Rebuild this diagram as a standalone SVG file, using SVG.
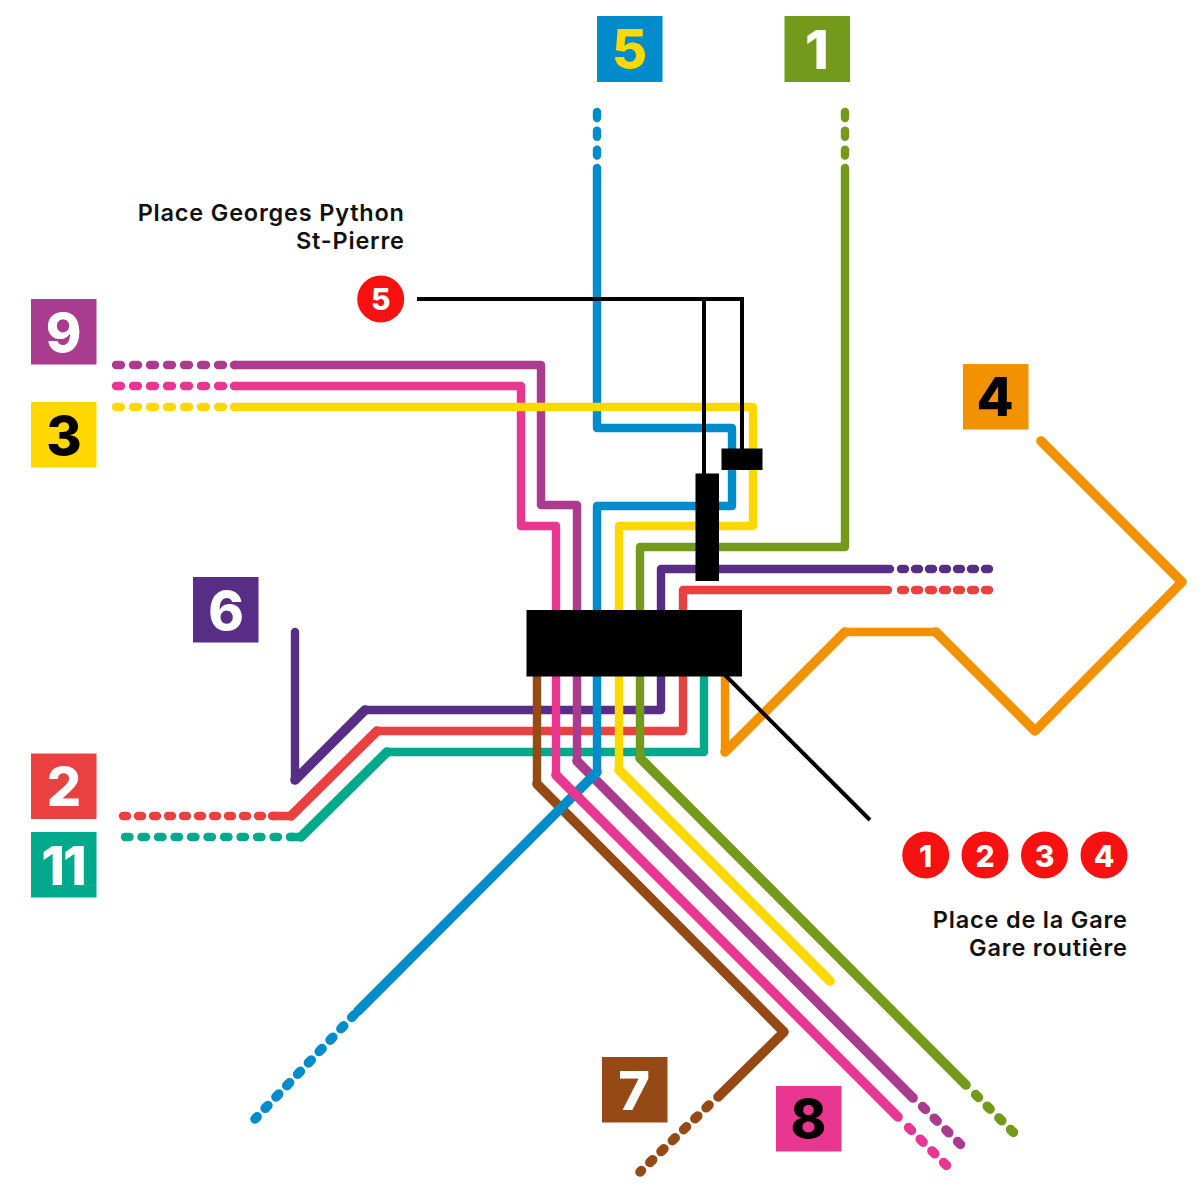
<svg xmlns="http://www.w3.org/2000/svg" width="1200" height="1197" viewBox="0 0 1200 1197">
<style>
.l{fill:none;stroke-width:8.4;stroke-linejoin:round;stroke-linecap:round}
.l .d,.l.d{stroke-width:9.6}
.b{fill:none;stroke:#000;stroke-width:4;stroke-linecap:butt}
.h{fill:#000}
.num{font-family:Inter,"Liberation Sans",sans-serif;font-weight:800;font-size:54px;text-anchor:middle}
.cn{font-family:Inter,"Liberation Sans",sans-serif;font-weight:800;font-size:30px;text-anchor:middle;fill:#fff}
.c{fill:#F91010}
.lab{font-family:Inter,"Liberation Sans",sans-serif;font-weight:600;font-size:23.5px;letter-spacing:.8px;text-anchor:end;fill:#111}
.blue{stroke:#008BCB}.green{stroke:#739A1A}.mag{stroke:#A93C8F}.pink{stroke:#E93690}.yel{stroke:#FFD800}.pur{stroke:#582D86}.red{stroke:#EA403F}.teal{stroke:#00A98B}.brown{stroke:#954A15}.or{stroke:#F39200}
</style>
<g id="connectors">
<g id="line11" class="l teal"><path d="M125 837H293" stroke-dasharray="4.5 12"/><path d="M290 837H301M387 752H704V670"/><path class="d" d="M301 837L387 752"/></g>
<g id="line2" class="l red"><path d="M123 816H275" stroke-dasharray="4 11"/><path d="M272 816H291M377 731H683V590H888"/><path class="d" d="M291 816L377 731"/><path d="M901 590H990" stroke-dasharray="4 10"/></g>
<g id="line6" class="l pur"><path d="M295 632V780M365 710H661V569H890"/><path class="d" d="M295 780L365 710"/><path d="M901 569H990" stroke-dasharray="4 10"/></g>
<g id="line4" class="l or"><path d="M936 632H845M725 752V670"/><path class="d" d="M1041 441L1182 582L1035 731L936 632M845 632L725 752"/></g>
<g id="line7" class="l brown"><path d="M537 670V784"/><path class="d" d="M537 784L784 1032L718 1097"/><path class="d" d="M709 1105L640 1172" stroke-dasharray="4 11.7"/></g>
<g id="line9" class="l mag"><path d="M116 365H236" stroke-dasharray="5 12"/><path d="M234 365H541V505H577V761"/><path class="d" d="M577 761L913 1098"/><path class="d" d="M922.600 1106.600L961 1145" stroke-dasharray="4 12.500"/></g>
<g id="line5" class="l blue"><path d="M597 112V162" stroke-dasharray="6 12.800"/><path d="M597 168V428H732V506H597V772"/><path class="d" d="M597 772L358 1011"/><path class="d" d="M354.500 1014.500L255 1119" stroke-dasharray="4 11.700"/></g>
<g id="line8" class="l pink"><path d="M116 386H236" stroke-dasharray="5 12"/><path d="M234 386H521V526H556V775"/><path class="d" d="M556 775L898 1117"/><path class="d" d="M908.600 1127.600L947 1166" stroke-dasharray="4 12.500"/></g>
<g id="line1" class="l green"><path d="M845 112V162" stroke-dasharray="6 12.800"/><path d="M845 168V547H640V758"/><path class="d" d="M640 758L966 1085"/><path class="d" d="M975.600 1094.600L1014 1133" stroke-dasharray="4 12.500"/></g>
<g id="line3" class="l yel"><path d="M116 407H236" stroke-dasharray="5 12"/><path d="M234 407H753V526H619V770"/><path class="d" d="M619 770L830 981"/></g>
<path id="leader5" class="b" d="M417 299H742V452M704 299V476"/>
<path id="leader1234" class="b" d="M725 675L870 820"/>
</g>
<g id="hub-gare"><rect class="h" x="526.500" y="610" width="215.500" height="66.500"/></g>
<g id="hub-python-a"><rect class="h" x="695.500" y="473.500" width="23.500" height="107.500"/></g>
<g id="hub-python-b"><rect class="h" x="721.500" y="448.500" width="41" height="21.500"/></g>
<g id="badge5"><rect x="597" y="16" width="65.500" height="66" fill="#008BCB"/><text class="num" x="629.500" y="68" fill="#FFD800">5</text></g>
<g id="badge1"><rect x="784.500" y="16" width="65.500" height="66" fill="#739A1A"/><text class="num" x="817" y="68.500" fill="#fff">1</text></g>
<g id="badge9"><rect x="31" y="299" width="65.500" height="65.500" fill="#A93C8F"/><text class="num" x="63.500" y="352" fill="#fff">9</text></g>
<g id="badge3"><rect x="31" y="402" width="65.500" height="65.500" fill="#FFD800"/><text class="num" x="64" y="455" fill="#000">3</text></g>
<g id="badge4"><rect x="963" y="364" width="65.500" height="65.500" fill="#F39200"/><text class="num" x="995" y="416" fill="#000">4</text></g>
<g id="badge6"><rect x="193" y="577" width="65.500" height="65.500" fill="#582D86"/><text class="num" x="226" y="630" fill="#fff">6</text></g>
<g id="badge2"><rect x="31" y="753.500" width="65.500" height="65.500" fill="#EA403F"/><text class="num" x="64" y="806" fill="#fff">2</text></g>
<g id="badge11"><rect x="31" y="832" width="65.500" height="65.500" fill="#00A98B"/><text class="num" x="63" y="885" letter-spacing="-2" fill="#fff">11</text></g>
<g id="badge7"><rect x="602" y="1057" width="65.500" height="65.500" fill="#954A15"/><text class="num" x="634" y="1110" fill="#fff">7</text></g>
<g id="badge8"><rect x="776" y="1086" width="65.500" height="65.500" fill="#E93690"/><text class="num" x="808.500" y="1138" fill="#000">8</text></g>
<g id="stop5"><circle class="c" cx="380.700" cy="299" r="23.500"/><text class="cn" x="380.700" y="310">5</text></g>
<g id="stop1"><circle class="c" cx="925.700" cy="855" r="23.500"/><text class="cn" x="925.700" y="866.500">1</text></g>
<g id="stop2"><circle class="c" cx="985" cy="855" r="23.500"/><text class="cn" x="985" y="866.500">2</text></g>
<g id="stop3"><circle class="c" cx="1044.500" cy="855" r="23.500"/><text class="cn" x="1044.500" y="866.500">3</text></g>
<g id="stop4"><circle class="c" cx="1104" cy="855" r="23.500"/><text class="cn" x="1104" y="866.500">4</text></g>
<g id="label-python"><text class="lab" x="404.800" y="221">Place Georges Python</text><text class="lab" x="404.800" y="249">St-Pierre</text></g>
<g id="label-gare"><text class="lab" x="1127.800" y="928">Place de la Gare</text><text class="lab" x="1127.800" y="956">Gare routière</text></g>
</svg>
